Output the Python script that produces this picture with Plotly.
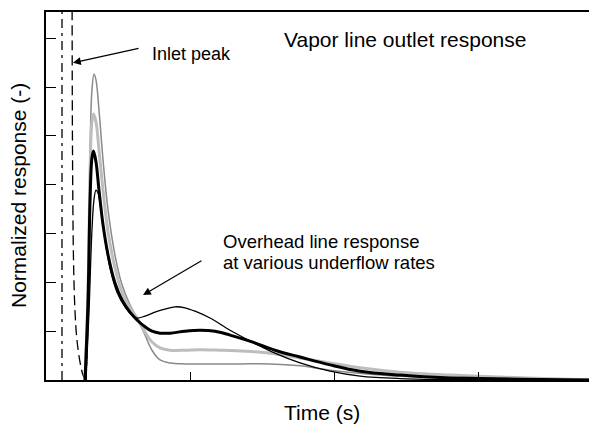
import plotly.graph_objects as go

# outlet responses (time in tick units, normalized response)
gray_x = [0.271, 0.292, 0.306, 0.319, 0.333, 0.347, 0.368, 0.396, 0.431, 0.479, 0.528, 0.583, 0.632,
          0.688, 0.736, 0.792, 0.861, 0.965, 1.139, 1.347, 1.556, 1.764, 1.972, 2.25, 2.597, 3.014, 3.569, 3.85]
gray_y = [0, 1.64, 4.71, 5.94, 6.27, 6.15, 5.53, 4.51, 3.48, 2.56, 1.95, 1.54, 1.27,
          0.92, 0.61, 0.41, 0.35, 0.33, 0.33, 0.33, 0.33, 0.29, 0.20, 0.12, 0.06, 0.03, 0.01, 0]

light_x = [0.271, 0.292, 0.306, 0.319, 0.330, 0.347, 0.368, 0.396, 0.431, 0.479, 0.528, 0.583, 0.632,
           0.688, 0.736, 0.792, 0.861, 0.965, 1.069, 1.208, 1.382, 1.556, 1.764, 1.972, 2.181, 2.458,
           2.806, 3.153, 3.569, 3.85]
light_y = [0, 1.84, 4.30, 5.29, 5.45, 5.29, 4.71, 3.89, 3.03, 2.30, 1.80, 1.48, 1.27,
           0.98, 0.78, 0.66, 0.61, 0.61, 0.62, 0.61, 0.59, 0.55, 0.45, 0.35, 0.25, 0.16,
           0.10, 0.06, 0.02, 0.005]

thick_x = [0.271, 0.292, 0.306, 0.319, 0.330, 0.347, 0.368, 0.396, 0.431, 0.479, 0.528, 0.583, 0.632,
           0.688, 0.736, 0.792, 0.861, 0.965, 1.069, 1.174, 1.278, 1.431, 1.590, 1.764, 1.972, 2.181,
           2.458, 2.736, 3.014, 3.431, 3.85]
thick_y = [0, 1.64, 3.69, 4.55, 4.69, 4.47, 3.89, 3.18, 2.56, 1.99, 1.64, 1.39, 1.23,
           1.09, 1.00, 0.96, 0.96, 1.00, 1.02, 1.00, 0.92, 0.78, 0.61, 0.47, 0.31, 0.18,
           0.10, 0.05, 0.03, 0.01, 0]

thin_x = [0.278, 0.299, 0.319, 0.333, 0.347, 0.361, 0.382, 0.410, 0.444, 0.493, 0.549, 0.597, 0.632,
          0.688, 0.757, 0.826, 0.896, 0.965, 1.035, 1.139, 1.278, 1.431, 1.590, 1.764, 1.972, 2.181,
          2.458, 2.806, 3.153, 3.85]
thin_y = [0, 1.43, 3.07, 3.69, 3.89, 3.83, 3.48, 2.87, 2.30, 1.80, 1.50, 1.33, 1.27,
          1.31, 1.39, 1.45, 1.50, 1.48, 1.41, 1.27, 1.02, 0.78, 0.55, 0.35, 0.18, 0.08,
          0.03, 0.01, 0, 0]

# inlet peaks (go off the top of the plot)
inlet1_x = [0.111, 0.111]
inlet1_y = [0, 8.5]
inlet2_x = [0.181, 0.184, 0.191, 0.201, 0.215, 0.236, 0.257, 0.271]
inlet2_y = [8.5, 4.71, 2.46, 1.43, 0.82, 0.37, 0.10, 0.02]
rise_x = [0.278, 0.285, 0.292]
rise_y = [0, 0.82, 1.54]

xticks = [1, 2, 3]
yticks = [1, 2, 3, 4, 5, 6, 7]

FONT = "Liberation Sans, Arial, Helvetica, sans-serif"

fig = go.Figure()
fig.add_trace(go.Scatter(x=inlet1_x, y=inlet1_y, mode="lines",
                         line=dict(color="black", width=1.3, dash="9px,5px,3px,5px")))
fig.add_trace(go.Scatter(x=inlet2_x, y=inlet2_y, mode="lines", line_shape="spline",
                         line=dict(color="black", width=1.3, dash="10px,5px")))
fig.add_trace(go.Scatter(x=gray_x, y=gray_y, mode="lines", line_shape="spline",
                         line=dict(color="#8a8a8a", width=1.5)))
fig.add_trace(go.Scatter(x=light_x, y=light_y, mode="lines", line_shape="spline",
                         line=dict(color="#bdbdbd", width=3)))
fig.add_trace(go.Scatter(x=thick_x, y=thick_y, mode="lines", line_shape="spline",
                         line=dict(color="black", width=3)))
fig.add_trace(go.Scatter(x=thin_x, y=thin_y, mode="lines", line_shape="spline",
                         line=dict(color="black", width=1.3)))
fig.add_trace(go.Scatter(x=rise_x, y=rise_y, mode="lines",
                         line=dict(color="black", width=1.5, dash="4px,3px")))

# page body adds ~8px offset, so figure is a bit smaller than the window
fig.update_layout(
    width=589, height=422,
    margin=dict(l=38, r=0, t=4, b=50),
    plot_bgcolor="white", paper_bgcolor="white",
    showlegend=False,
    font=dict(family=FONT, color="black"),
)
fig.update_xaxes(range=[0, 3.826], showline=True, linecolor="black", linewidth=1.5, mirror=True,
                 ticks="inside", ticklen=8, tickcolor="black", tickvals=xticks,
                 showticklabels=False, showgrid=False, zeroline=False)
fig.update_yaxes(range=[0, 7.54], showline=True, linecolor="black", linewidth=1.5,
                 ticks="inside", ticklen=10, tickcolor="black", tickvals=yticks,
                 showticklabels=False, showgrid=False, zeroline=False)

# axis titles
fig.add_annotation(text="Time (s)", xref="paper", yref="paper", x=0.5, y=0, yshift=-32,
                   showarrow=False, font=dict(size=21), yanchor="middle")
fig.add_annotation(text="Normalized response (-)", xref="paper", yref="paper", x=0, y=0.5,
                   xshift=-28, textangle=-90, showarrow=False, font=dict(size=21), xanchor="center")

# labels and arrows
fig.add_annotation(text="Vapor line outlet response", x=2.493, y=6.97, showarrow=False,
                   font=dict(size=21))
fig.add_annotation(text="Inlet peak", x=0.72, y=6.68, showarrow=False, font=dict(size=18),
                   xanchor="left")
fig.add_annotation(x=0.1875, y=6.50, ax=0.653, ay=6.80, axref="x", ayref="y", text="",
                   showarrow=True, arrowhead=2, arrowsize=1.3, arrowwidth=1.2, arrowcolor="black")
fig.add_annotation(text="Overhead line response", x=1.215, y=2.83, showarrow=False,
                   font=dict(size=18.5), xanchor="left")
fig.add_annotation(text="at various underflow rates", x=1.215, y=2.40, showarrow=False,
                   font=dict(size=18.5), xanchor="left")
fig.add_annotation(x=0.674, y=1.74, ax=1.09, ay=2.46, axref="x", ayref="y", text="",
                   showarrow=True, arrowhead=2, arrowsize=1.3, arrowwidth=1.2, arrowcolor="black")

fig.write_html("out.html")
